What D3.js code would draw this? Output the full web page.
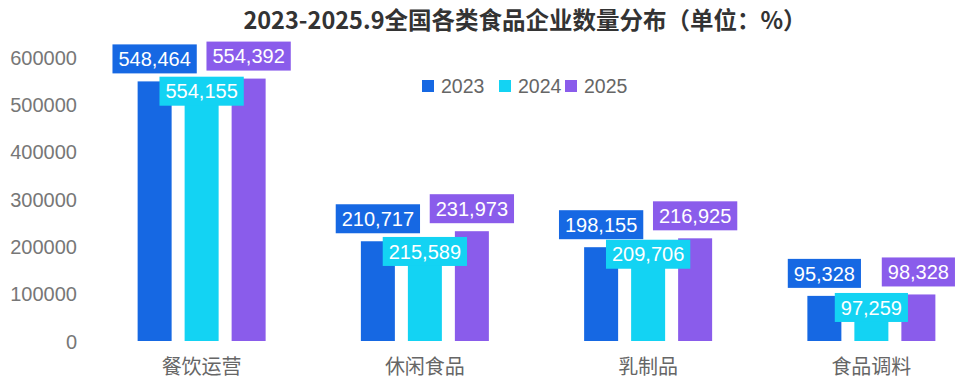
<!DOCTYPE html>
<html><head><meta charset="utf-8">
<script src="https://cdn.jsdelivr.net/npm/d3@7"></script>
<style>
html,body{margin:0;padding:0;background:#fff;}
svg{display:block;}
</style></head>
<body>
<svg id="chart" width="978" height="386"></svg>
<script>
const titleText = "2023-2025.9全国各类食品企业数量分布（单位：%）";
const categories = ["餐饮运营", "休闲食品", "乳制品", "食品调料"];
const seriesNames = ["2023", "2024", "2025"];
const values2023 = [548464, 210717, 198155, 95328];
const values2024 = [554155, 215589, 209706, 97259];
const values2025 = [554392, 231973, 216925, 98328];
const yTicks = [0, 100000, 200000, 300000, 400000, 500000, 600000];
const colors = ["#1668E3", "#13D3F3", "#8A5CEB"];

const seriesValues = [values2023, values2024, values2025];
const svg = d3.select("#chart");
const numFont = "'Liberation Sans', Arial, 'Noto Sans CJK SC', sans-serif";
const cjkFont = "'Noto Sans CJK SC', 'Liberation Sans', sans-serif";

const y = d3.scaleLinear().domain([0, 600000]).range([341, 57]);
const x0 = d3.scaleBand().domain(categories).range([90, 983]).padding(0);
const x1 = d3.scaleBand().domain(seriesNames).range([-70.5, 70.5])
  .paddingInner(13/47).paddingOuter(6.5/47);

// title
svg.append("text").attr("x", 525).attr("y", 29).attr("text-anchor", "middle")
  .attr("font-family", cjkFont).attr("font-weight", "bold").attr("font-size", 23.5)
  .attr("fill", "#333").text(titleText);

// y axis
const yAxis = d3.axisLeft(y).tickValues(yTicks).tickSize(0).tickPadding(0)
  .tickFormat(d3.format("d"));
const ga = svg.append("g").attr("transform", "translate(77,0)").call(yAxis);
ga.select(".domain").remove();
ga.selectAll("text").attr("font-family", numFont).attr("font-size", 20)
  .attr("fill", "#777").attr("dy", "0.35em");

// x axis labels
const xAxis = d3.axisBottom(x0).tickSize(0).tickPadding(0);
const gx = svg.append("g").attr("transform", "translate(0,357)").call(xAxis);
gx.select(".domain").remove();
gx.selectAll("text").attr("font-family", cjkFont).attr("font-size", 20)
  .attr("fill", "#666").attr("dy", "0.85em");

// bars
const rows = [];
categories.forEach((c, i) => {
  seriesNames.forEach((s, j) => {
    rows.push({cat: c, ser: s, j: j, v: seriesValues[j][i]});
  });
});

const bx = d => x0(d.cat) + x0.bandwidth() / 2 + x1(d.ser);
svg.append("g").selectAll("rect").data(rows).join("rect")
  .attr("x", bx).attr("width", x1.bandwidth())
  .attr("y", d => y(d.v)).attr("height", d => y(0) - y(d.v))
  .attr("fill", d => colors[d.j]);

// labels
const fmt = d3.format(",");
const lg = svg.append("g").selectAll("g").data(rows).join("g");
lg.each(function(d) {
  const g = d3.select(this);
  const cx = bx(d) + x1.bandwidth() / 2;
  const t = g.append("text").attr("font-family", numFont).attr("font-size", 20)
    .attr("fill", "#fff").attr("text-anchor", "middle").text(fmt(d.v));
  const w = t.node().getComputedTextLength() + 12;
  const h = 29;
  const top = d.j === 1 ? y(d.v) - 2 : y(d.v) - 8 - h;
  g.insert("rect", "text").attr("x", cx - w / 2).attr("y", top)
    .attr("width", w).attr("height", h).attr("fill", colors[d.j]);
  t.attr("x", cx).attr("y", top + h / 2).attr("dy", "0.36em");
});

// legend
const legX = [422, 499, 565];
const leg = svg.append("g").selectAll("g").data(seriesNames).join("g")
  .attr("transform", (d, i) => `translate(${legX[i]},86)`);
leg.append("rect").attr("x", 0).attr("y", -6).attr("width", 12).attr("height", 12)
  .attr("fill", (d, i) => colors[i]);
leg.append("text").attr("x", 19).attr("y", 0).attr("dy", "0.36em")
  .attr("font-family", numFont).attr("font-size", 19.5).attr("fill", "#666").text(d => d);
</script>
</body></html>
